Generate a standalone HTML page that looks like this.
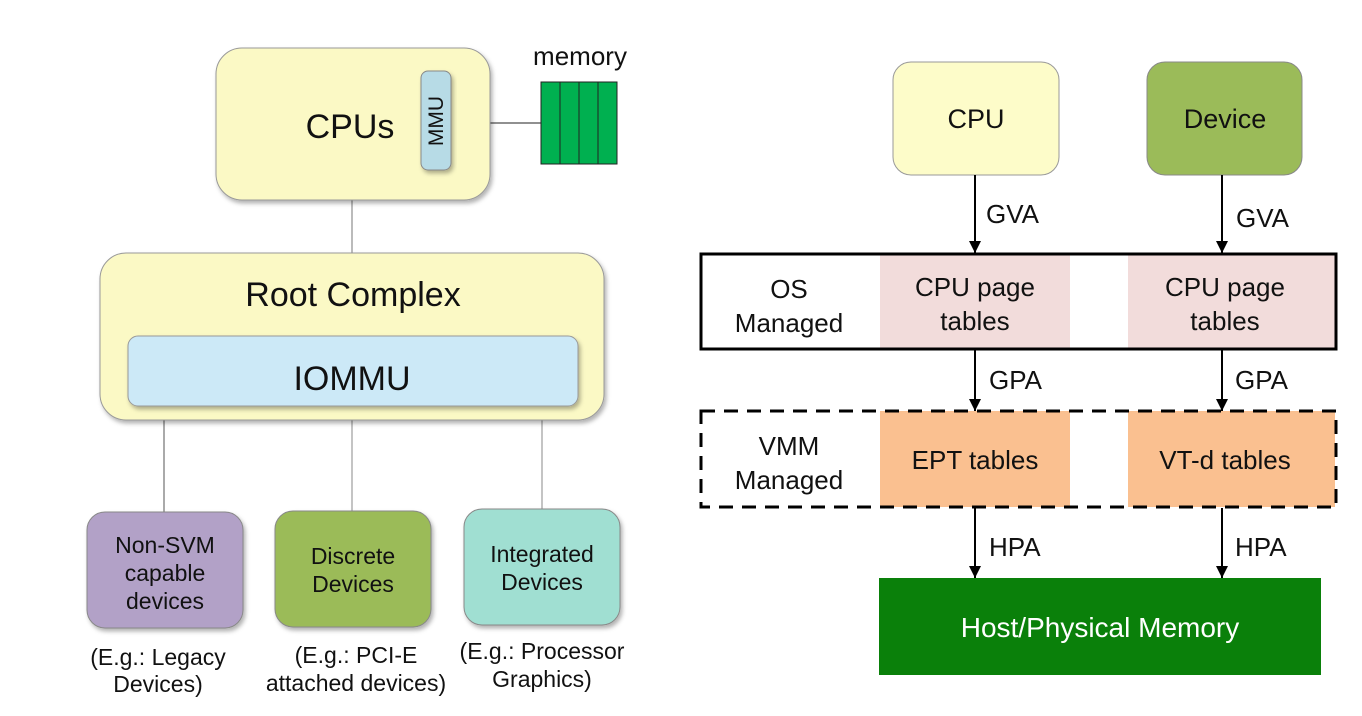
<!DOCTYPE html>
<html><head><meta charset="utf-8"><style>
html,body{margin:0;padding:0;background:#fff;}
svg{display:block;}
text{font-family:"Liberation Sans",sans-serif;fill:#111;}
</style></head><body>
<svg width="1362" height="716" viewBox="0 0 1362 716" xmlns="http://www.w3.org/2000/svg">
<defs>
<filter id="sh" x="-10%" y="-10%" width="130%" height="130%"><feDropShadow dx="2" dy="3" stdDeviation="2" flood-color="#000" flood-opacity="0.3"/></filter>
<marker id="ar" markerWidth="14" markerHeight="14" refX="12" refY="6" orient="auto" markerUnits="userSpaceOnUse"><path d="M0,0 L12,6 L0,12 z" fill="#000"/></marker>
</defs>
<!-- LEFT -->
<line x1="352" y1="200" x2="352" y2="253" stroke="#777" stroke-width="1"/>
<line x1="490" y1="123" x2="541" y2="123" stroke="#222" stroke-width="1"/>
<line x1="164" y1="420" x2="164" y2="512" stroke="#555" stroke-width="1"/>
<line x1="352" y1="420" x2="352" y2="511" stroke="#888" stroke-width="1"/>
<line x1="542" y1="420" x2="542" y2="509" stroke="#888" stroke-width="1"/>
<rect x="216" y="48" width="274" height="152" rx="26" fill="#fbf9c5" stroke="#999" filter="url(#sh)"/>
<text x="350" y="138" font-size="34" text-anchor="middle">CPUs</text>
<rect x="421" y="71" width="30" height="99" rx="7" fill="#b7dbe6" stroke="#888" filter="url(#sh)"/>
<text x="0" y="0" font-size="21" text-anchor="middle" transform="translate(443,121) rotate(-90)">MMU</text>
<text x="580" y="65" font-size="26" text-anchor="middle">memory</text>
<rect x="541" y="82" width="76" height="82" fill="#00b050" stroke="#222" stroke-width="1"/>
<line x1="560" y1="82" x2="560" y2="164" stroke="#222"/>
<line x1="579" y1="82" x2="579" y2="164" stroke="#222"/>
<line x1="598" y1="82" x2="598" y2="164" stroke="#222"/>
<rect x="100" y="253" width="504" height="167" rx="26" fill="#fbf9c5" stroke="#999" filter="url(#sh)"/>
<text x="353" y="306" font-size="34" text-anchor="middle">Root Complex</text>
<rect x="128" y="336" width="450" height="70" rx="10" fill="#cce9f7" stroke="#999" filter="url(#sh)"/>
<text x="352" y="390" font-size="34" text-anchor="middle">IOMMU</text>
<rect x="87" y="512" width="156" height="116" rx="18" fill="#b2a1c7" stroke="#888" filter="url(#sh)"/>
<text x="165" y="553" font-size="23" text-anchor="middle">Non-SVM</text>
<text x="165" y="581" font-size="23" text-anchor="middle">capable</text>
<text x="165" y="609" font-size="23" text-anchor="middle">devices</text>
<rect x="275" y="511" width="156" height="116" rx="18" fill="#9bbb59" stroke="#888" filter="url(#sh)"/>
<text x="353" y="564" font-size="23" text-anchor="middle">Discrete</text>
<text x="353" y="592" font-size="23" text-anchor="middle">Devices</text>
<rect x="464" y="509" width="156" height="116" rx="18" fill="#a0dfd2" stroke="#888" filter="url(#sh)"/>
<text x="542" y="562" font-size="23" text-anchor="middle">Integrated</text>
<text x="542" y="590" font-size="23" text-anchor="middle">Devices</text>
<text x="158" y="665" font-size="23" text-anchor="middle">(E.g.: Legacy</text>
<text x="158" y="692" font-size="23" text-anchor="middle">Devices)</text>
<text x="356" y="663" font-size="23" text-anchor="middle">(E.g.: PCI-E</text>
<text x="356" y="691" font-size="23" text-anchor="middle">attached devices)</text>
<text x="542" y="659" font-size="23" text-anchor="middle">(E.g.: Processor</text>
<text x="542" y="687" font-size="23" text-anchor="middle">Graphics)</text>
<!-- RIGHT -->
<rect x="893" y="62" width="166" height="113" rx="18" fill="#fdfcc9" stroke="#999"/>
<text x="976" y="128" font-size="27" text-anchor="middle">CPU</text>
<rect x="1147" y="62" width="155" height="113" rx="18" fill="#9bbb59" stroke="#888"/>
<text x="1225" y="128" font-size="27" text-anchor="middle">Device</text>
<line x1="975" y1="175" x2="975" y2="253" stroke="#000" stroke-width="2" marker-end="url(#ar)"/>
<line x1="1222" y1="175" x2="1222" y2="253" stroke="#000" stroke-width="2" marker-end="url(#ar)"/>
<text x="986" y="223" font-size="26">GVA</text>
<text x="1236" y="227" font-size="26">GVA</text>
<rect x="880" y="254" width="190" height="94" fill="#f2dcdb"/>
<rect x="1128" y="254" width="207" height="94" fill="#f2dcdb"/>
<rect x="701" y="254" width="635" height="95" fill="none" stroke="#000" stroke-width="3"/>
<text x="789" y="298" font-size="26" text-anchor="middle">OS</text>
<text x="789" y="332" font-size="26" text-anchor="middle">Managed</text>
<text x="975" y="296" font-size="26" text-anchor="middle">CPU page</text>
<text x="975" y="330" font-size="26" text-anchor="middle">tables</text>
<text x="1225" y="296" font-size="26" text-anchor="middle">CPU page</text>
<text x="1225" y="330" font-size="26" text-anchor="middle">tables</text>
<line x1="975" y1="350" x2="975" y2="411" stroke="#000" stroke-width="2" marker-end="url(#ar)"/>
<line x1="1222" y1="350" x2="1222" y2="411" stroke="#000" stroke-width="2" marker-end="url(#ar)"/>
<text x="989" y="389" font-size="26">GPA</text>
<text x="1235" y="389" font-size="26">GPA</text>
<rect x="880" y="411" width="190" height="96" fill="#fac090"/>
<rect x="1128" y="411" width="207" height="96" fill="#fac090"/>
<rect x="701" y="411" width="635" height="96" fill="none" stroke="#000" stroke-width="3" stroke-dasharray="14,9"/>
<text x="789" y="455" font-size="26" text-anchor="middle">VMM</text>
<text x="789" y="489" font-size="26" text-anchor="middle">Managed</text>
<text x="975" y="469" font-size="26" text-anchor="middle">EPT tables</text>
<text x="1225" y="469" font-size="26" text-anchor="middle">VT-d tables</text>
<line x1="975" y1="508" x2="975" y2="578" stroke="#000" stroke-width="2" marker-end="url(#ar)"/>
<line x1="1222" y1="508" x2="1222" y2="578" stroke="#000" stroke-width="2" marker-end="url(#ar)"/>
<text x="989" y="556" font-size="26">HPA</text>
<text x="1235" y="556" font-size="26">HPA</text>
<rect x="879" y="578" width="442" height="97" fill="#0a800a"/>
<text x="1100" y="637" font-size="28" text-anchor="middle" style="fill:#fff">Host/Physical Memory</text>
</svg>
</body></html>
